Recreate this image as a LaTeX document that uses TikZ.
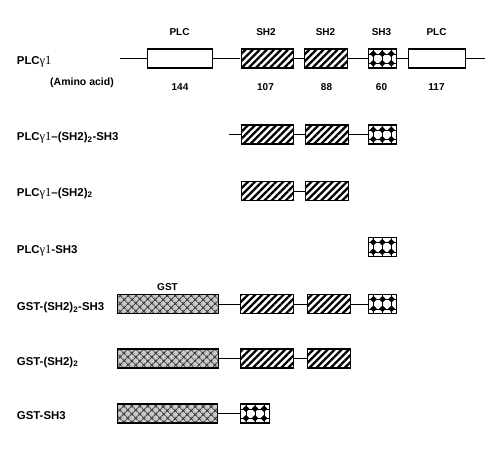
\documentclass[tikz,border=0pt]{standalone}
\usepackage{fontspec}
\setmainfont{Liberation Sans}
\newfontfamily\gfont{Liberation Serif}
\usetikzlibrary{patterns.meta}
\newcommand{\gam}{{\gfont\mdseries\fontsize{12.5}{12}\selectfont γ1}}
\begin{document}
\begin{tikzpicture}[x=1pt,y=-1pt,
  txt/.style={font=\bfseries\fontsize{10}{12}\selectfont, inner sep=0pt},
  lab/.style={inner sep=0pt, font=\bfseries\fontsize{11.4}{13}\selectfont, anchor=base west},
  top/.style={txt, anchor=base},
  dom/.style={draw=black, line width=1.1pt, minimum height=19pt, inner sep=0pt, anchor=west},
  plcbox/.style={dom, fill=white},
  sh2box/.style={dom, pattern={Lines[angle=45,distance=5pt,line width=2.3pt]}, pattern color=black},
  gstbox/.style={dom, preaction={fill=black!20}, pattern={Hatch[angle=45,distance=5.4pt,line width=1pt]}, pattern color=black!80},
  sh3box/.style={dom, fill=white, path picture={
    \foreach \dx in {-9,0,9}{\draw[black, line width=0.4pt] ([xshift=\dx pt]path picture bounding box.north) -- ([xshift=\dx pt]path picture bounding box.south);}
    \foreach \dy in {-4.75,4.75}{\draw[black, line width=0.4pt] ([yshift=\dy pt]path picture bounding box.west) -- ([yshift=\dy pt]path picture bounding box.east);}
    \foreach \dx in {-9,0,9}{\foreach \dy in {-4.75,4.75}{
      \fill[black] ([shift={(\dx pt,\dy pt)}]path picture bounding box.center) +(0pt,3.4pt) -- +(3.4pt,0pt) -- +(0pt,-3.4pt) -- +(-3.4pt,0pt) -- cycle;}}
  }},
  link/.style={line width=0.9pt}
]
\useasboundingbox (0,0) rectangle (504,458);

% ---- top labels
\node[top] (tplcA) at (179.5,35.5) {PLC};
\node[top] (tsh2a) at (266,35.5) {SH2};
\node[top] (tsh2b) at (325.5,35.5) {SH2};
\node[top] (tsh3) at (381.5,35.5) {SH3};
\node[top] (tplcB) at (436.5,35.5) {PLC};

% ---- row 1
\node[lab] (l1) at (16.7,64) {PLC\gam};
\node[lab, font=\bfseries\fontsize{10.5}{12}\selectfont] (amino) at (50,85.5) {(Amino acid)};
\node[plcbox, minimum width=65.6pt] (r1plcA) at (146.7,58.5) {};
\node[sh2box, minimum width=52pt] (r1sh2a) at (240,58.5) {};
\node[sh2box, minimum width=43pt] (r1sh2b) at (304,58.5) {};
\node[sh3box, minimum width=27.5pt] (r1sh3) at (368,58.5) {};
\node[plcbox, minimum width=57.3pt] (r1plcB) at (407.7,58.5) {};
\coordinate (r1s) at (120,58.5);
\coordinate (r1e) at (485,58.5);
\draw[link] (r1s) -- (r1plcA) -- (r1sh2a) -- (r1sh2b) -- (r1sh3) -- (r1plcB) -- (r1e);
\node[top] (n144) at (180,90.5) {144};
\node[top] (n107) at (265.5,90.5) {107};
\node[top] (n88) at (326.5,90.5) {88};
\node[top] (n60) at (381.5,90.5) {60};
\node[top] (n117) at (436.5,90.5) {117};

% ---- row 2
\node[lab] (l2) at (16.7,140.5) {PLC\gam–(SH2)\textsubscript{2}-SH3};
\node[sh2box, minimum width=52.5pt] (r2sh2a) at (240.5,134.5) {};
\node[sh2box, minimum width=43pt] (r2sh2b) at (305,134.5) {};
\node[sh3box, minimum width=27.5pt] (r2sh3) at (368,134.5) {};
\coordinate (r2s) at (229,134.5);
\draw[link] (r2s) -- (r2sh2a) -- (r2sh2b) -- (r2sh3);

% ---- row 3
\node[lab] (l3) at (16.7,196) {PLC\gam–(SH2)\textsubscript{2}};
\node[sh2box, minimum width=52.5pt] (r3sh2a) at (240.5,191) {};
\node[sh2box, minimum width=43pt] (r3sh2b) at (305,191) {};
\draw[link] (r3sh2a) -- (r3sh2b);

% ---- row 4
\node[lab] (l4) at (16.7,253) {PLC\gam-SH3};
\node[sh3box, minimum width=27.5pt] (r4sh3) at (368,247) {};

% ---- row 5
\node[top] (tgst) at (167.5,290) {GST};
\node[lab] (l5) at (16.7,310.5) {GST-(SH2)\textsubscript{2}-SH3};
\node[gstbox, minimum width=101pt] (r5gst) at (117,304) {};
\node[sh2box, minimum width=53pt] (r5sh2a) at (240.3,304) {};
\node[sh2box, minimum width=43pt] (r5sh2b) at (307.3,304) {};
\node[sh3box, minimum width=27.5pt] (r5sh3) at (368.2,304) {};
\draw[link] (r5gst) -- (r5sh2a) -- (r5sh2b) -- (r5sh3);

% ---- row 6
\node[lab] (l6) at (16.7,365) {GST-(SH2)\textsubscript{2}};
\node[gstbox, minimum width=101pt] (r6gst) at (117,358.5) {};
\node[sh2box, minimum width=53pt] (r6sh2a) at (240.3,358.5) {};
\node[sh2box, minimum width=43pt] (r6sh2b) at (307.3,358.5) {};
\draw[link] (r6gst) -- (r6sh2a) -- (r6sh2b);

% ---- row 7
\node[lab] (l7) at (16.7,419.5) {GST-SH3};
\node[gstbox, minimum width=100pt] (r7gst) at (116.7,413.5) {};
\node[sh3box, minimum width=29pt] (r7sh3) at (240,413.5) {};
\draw[link] (r7gst) -- (r7sh3);
\end{tikzpicture}
\end{document}
